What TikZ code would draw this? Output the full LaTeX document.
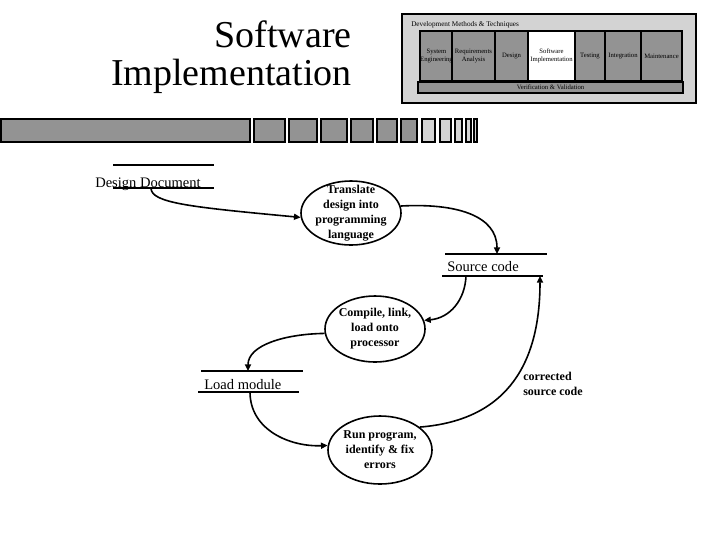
\documentclass[tikz,border=0pt]{standalone}
\usepackage{fontspec}
\setmainfont{Liberation Serif}
\usetikzlibrary{shapes.geometric,arrows.meta}
\definecolor{midgray}{RGB}{147,147,147}
\definecolor{palegray}{RGB}{211,211,211}
\begin{document}
\begin{tikzpicture}[x=0.75pt,y=-0.75pt,
  process/.style={ellipse, draw, line width=1.2pt, inner xsep=-3pt, inner ysep=-8pt,
    font=\fontsize{9}{11.2}\selectfont\bfseries, align=center},
  storeline/.style={line width=1.4pt},
  storetext/.style={font=\fontsize{10.9}{13}\selectfont, inner sep=0pt, anchor=base west},
  flow/.style={line width=1.2pt, -{Triangle[length=5pt,width=4.5pt]}},
  stripbox/.style={draw, line width=1.6pt, fill=midgray},
  stripboxlight/.style={draw, line width=1.6pt, fill=palegray},
  phase/.style={draw, line width=1.1pt, fill=midgray, inner sep=0pt,
    minimum height=37.5pt, font=\fontsize{5}{6}\selectfont, align=center},
  titletext/.style={font=\fontsize{28.5}{38}\selectfont, inner sep=0pt, anchor=base east}
]
\useasboundingbox (0,0) rectangle (720,540);

% title
\node[titletext] (title1) at (352,47) {Software};
\node[titletext] (title2) at (352,85) {Implementation};

% lifecycle frame
\draw[line width=1.5pt, fill=palegray] (402,14) rectangle (696,103);
\node[anchor=base west, inner sep=0pt, font=\fontsize{5.4}{6}\selectfont] (methods) at (411,26.5) {Development Methods \& Techniques};
\node[phase, minimum width=23.25pt] (p1) at (436.5,56) {System\\Engineering};
\node[phase, minimum width=32.25pt] (p2) at (473.5,56) {Requirements\\Analysis};
\node[phase, minimum width=24.75pt] (p3) at (511.5,56) {Design};
\node[phase, minimum width=35.25pt, fill=white] (p4) at (551.5,56) {Software\\Implementation};
\node[phase, minimum width=22.5pt] (p5) at (590,56) {Testing};
\node[phase, minimum width=27pt] (p6) at (623,56) {Integration};
\node[phase, minimum width=30.75pt] (p7) at (661.5,56) {Maintenance};
\node[phase, minimum width=198.75pt, minimum height=8.25pt] (vv) at (550.5,87.5) {Verification \& Validation};

% strip
\draw[stripbox] (1,119) rectangle (250,142);
\draw[stripbox] (254,119) rectangle (285,142);
\draw[stripbox] (289,119) rectangle (317,142);
\draw[stripbox] (321,119) rectangle (347,142);
\draw[stripbox] (351,119) rectangle (373,142);
\draw[stripbox] (377,119) rectangle (397,142);
\draw[stripbox] (401,119) rectangle (417,142);
\draw[stripboxlight] (422,119) rectangle (435,142);
\draw[stripboxlight] (440,119) rectangle (451,142);
\draw[stripboxlight] (455,119) rectangle (462,142);
\draw[stripboxlight] (466,119) rectangle (471,142);
\draw[stripboxlight] (474,119) rectangle (477,142);

% data stores
\coordinate (dd-t1) at (113,165); \coordinate (dd-t2) at (214,165);
\coordinate (dd-b1) at (113,188); \coordinate (dd-b2) at (214,188);
\draw[storeline] (dd-t1) -- (dd-t2);
\draw[storeline] (dd-b1) -- (dd-b2);
\node[storetext] (dd) at (95,187) {Design Document};
\coordinate (dd-out) at (151,188);

\coordinate (sc-t1) at (445,254); \coordinate (sc-t2) at (547,254);
\coordinate (sc-b1) at (442,276); \coordinate (sc-b2) at (543,276);
\draw[storeline] (sc-t1) -- (sc-t2);
\draw[storeline] (sc-b1) -- (sc-b2);
\node[storetext] (sc) at (447,271) {Source code};
\coordinate (sc-in) at (497,254);
\coordinate (sc-out) at (466,276);
\coordinate (sc-back) at (540,276);

\coordinate (lm-t1) at (201,371); \coordinate (lm-t2) at (303,371);
\coordinate (lm-b1) at (198,392); \coordinate (lm-b2) at (299,392);
\draw[storeline] (lm-t1) -- (lm-t2);
\draw[storeline] (lm-b1) -- (lm-b2);
\node[storetext] (lm) at (204,389) {Load module};
\coordinate (lm-in) at (248,371);
\coordinate (lm-out) at (250,392);

% processes
\node[process, minimum width=75pt, minimum height=48pt] (tr) at (351,213) {Translate\\design into\\programming\\language};
\node[process, minimum width=75pt, minimum height=49.5pt] (cl) at (375,329) {Compile, link,\\load onto\\processor};
\node[process, minimum width=78pt, minimum height=51pt] (run) at (380,450) {Run program,\\identify \& fix\\errors};

% flows
\draw[flow] (dd-out) .. controls (151,203) and (190,207) .. (tr.185);
\draw[flow] (tr.8) .. controls (455,203) and (497,215) .. (sc-in);
\draw[flow] (sc-out) .. controls (465,300) and (450,318) .. (cl.10);
\draw[flow] (cl.185) .. controls (285,334) and (248,345) .. (lm-in);
\draw[flow] (lm-out) .. controls (250,430) and (290,447) .. (run.175);
\draw[flow] (run.30) .. controls (510,420) and (540,360) .. (sc-back);

\node[anchor=west, inner sep=0pt, align=left, font=\fontsize{9}{11.2}\selectfont\bfseries] (corr) at (523,383.5) {corrected\\source code};
\end{tikzpicture}
\end{document}
